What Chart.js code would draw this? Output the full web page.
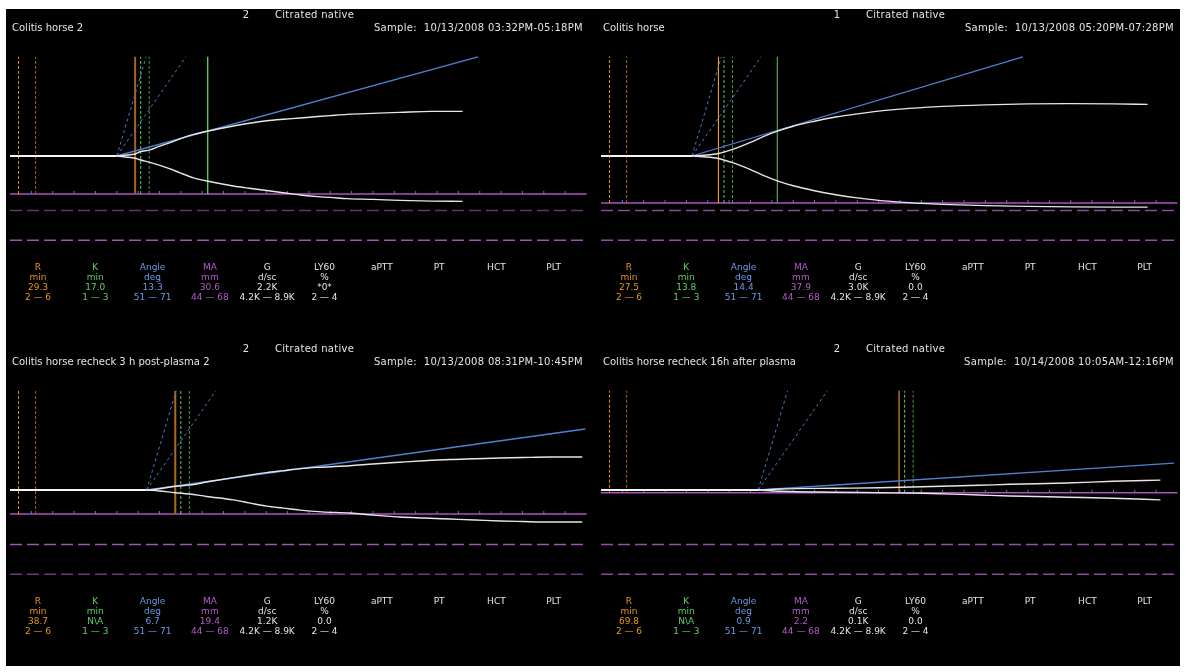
<!DOCTYPE html>
<html>
<head>
<meta charset="utf-8">
<title>TEG tracings</title>
<script src="https://cdn.jsdelivr.net/npm/chart.js@4.4.1/dist/chart.umd.min.js"></script>
<style>
  html, body { margin: 0; padding: 0; background: #ffffff; }
  #root { position: absolute; left: 0; top: 0; width: 1186px; height: 672px; overflow: hidden; }
  #screen { position: absolute; left: 6px; top: 9px; width: 1174px; height: 657px; background: #000000; }
  canvas { position: absolute; }
  .t { position: absolute; font-family: "DejaVu Sans", sans-serif; font-size: 10px; line-height: 12px;
       white-space: pre; color: #e4e4e4; }
  .t.small { font-size: 9px; line-height: 10px; }
  .t.wide { letter-spacing: 0.3px; }
</style>
</head>
<body>
<div id="root"><div id="screen"></div></div>
<script>
// ---- Sample headers -------------------------------------------------------
const panelTitles = ['Colitis horse 2', 'Colitis horse',
                     'Colitis horse recheck 3 h post-plasma 2', 'Colitis horse recheck 16h after plasma'];
const channelNumbers = ['2', '1', '2', '2'];
const sampleTypes = ['Citrated native', 'Citrated native', 'Citrated native', 'Citrated native'];
const sampleTimes = ['Sample:  10/13/2008 03:32PM-05:18PM', 'Sample:  10/13/2008 05:20PM-07:28PM',
                     'Sample:  10/13/2008 08:31PM-10:45PM', 'Sample:  10/14/2008 10:05AM-12:16PM'];

// ---- Measured parameters --------------------------------------------------
const rValues = [29.3, 27.5, 38.7, 69.8];          // min
const kValues = [17.0, 13.8, null, null];          // min (null = N\A)
const angleValues = [13.3, 14.4, 6.7, 0.9];        // deg
const maValues = [30.6, 37.9, 19.4, 2.2];          // mm
const gValues = ['2.2K', '3.0K', '1.2K', '0.1K'];  // d/sc
const ly60Values = ['*0*', '0.0', '0.0', '0.0'];   // %

// ---- Normal ranges ----------------------------------------------------------
const rRange = [2, 6];
const kRange = [1, 3];
const angleRange = [51, 71];
const maRange = [44, 68];
const rangeLabels = ['2 — 6', '1 — 3', '51 — 71', '44 — 68', '4.2K — 8.9K', '2 — 4'];

// ---- Table columns ----------------------------------------------------------
const columnHeaders = ['R', 'K', 'Angle', 'MA', 'G', 'LY60', 'aPTT', 'PT', 'HCT', 'PLT'];
const columnUnits = ['min', 'min', 'deg', 'mm', 'd/sc', '%', '', '', '', ''];

// ---- Time axis tick marks (min) --------------------------------------------
const tickMinutes = [5, 10, 15, 20, 25, 30, 35, 40, 45, 50, 55, 60, 65, 70, 75, 80,
                     85, 90, 95, 100, 105, 110, 115, 120, 125, 130];

// ---- Tracings: time (min) and upper / lower amplitude (mm) ------------------
const p1Minutes = [0, 25.0, 27.0, 29.3, 30.4, 32.8, 35.1, 37.5, 39.8, 43.0, 46.4, 52.3, 56.0, 60.1,
                   64.0, 68.0, 72.0, 75.0, 79.0, 85.0, 91.3, 98.8, 106.0];
const p1Upper = [0, 0, 0.3, 0.8, 1.7, 2.5, 4.0, 5.4, 6.9, 8.7, 10.1, 12.1, 13.2, 14.2,
                 14.8, 15.3, 15.9, 16.3, 16.8, 17.2, 17.6, 18.0, 18.0];
const p1Lower = [0, 0, -0.4, -0.9, -1.5, -2.6, -3.8, -5.2, -6.8, -8.8, -10.2, -12.1, -13.0, -13.9,
                 -14.8, -15.7, -16.4, -16.7, -17.2, -17.5, -17.9, -18.2, -18.3];

const p2Minutes = [0, 21.3, 24.0, 27.5, 31.0, 35.0, 38.0, 41.3, 45.0, 50.0, 55.0, 60.0, 65.0, 70.0,
                   75.0, 80.0, 90.0, 100.0, 110.0, 120.0, 128.0];
const p2Upper = [0, 0, 0.3, 1.0, 2.8, 5.5, 7.8, 10.0, 12.0, 14.0, 15.7, 17.0, 18.1, 18.9,
                 19.5, 20.0, 20.6, 21.0, 21.1, 21.0, 20.8];
const p2Lower = [0, 0, -0.3, -1.0, -2.8, -5.5, -7.8, -10.0, -12.0, -14.0, -15.6, -16.9, -17.9, -18.6,
                 -19.1, -19.5, -20.0, -20.3, -20.5, -20.6, -20.6];

const p3Minutes = [0, 32.0, 35.0, 38.7, 42.0, 46.0, 52.3, 56.0, 60.1, 64.0, 67.9, 73.0, 79.6, 85.0,
                   91.3, 97.0, 103.0, 109.0, 114.8, 120.0, 126.5, 134.0];
const p3Upper = [0, 0, 0.5, 1.5, 2.0, 3.2, 5.0, 6.0, 7.0, 7.8, 8.6, 9.2, 9.8, 10.5,
                 11.2, 11.8, 12.3, 12.6, 12.9, 13.1, 13.3, 13.3];
const p3Lower = [0, 0, -0.4, -1.1, -1.6, -2.6, -4.0, -5.2, -6.5, -7.3, -8.1, -8.8, -9.3, -10.1,
                 -10.9, -11.3, -11.7, -12.1, -12.5, -12.7, -12.9, -12.9];

const p4Minutes = [0, 36.8, 42.1, 54.6, 65.3, 75.2, 88.5, 95.8, 109.1, 119.9, 131.0];
const p4Upper = [0, 0, 0.4, 0.7, 0.9, 1.3, 1.9, 2.3, 2.8, 3.5, 4.0];
const p4Lower = [0, 0, -0.5, -0.9, -1.1, -1.3, -2.0, -2.4, -2.9, -3.3, -4.0];

// Far end of each angle tangent line: [min, mm]
const angleLineEnds = [[109.6, 40], [98.8, 40], [134.7, 24.6], [134.2, 10.8]];

// ---- Layout -----------------------------------------------------------------
const panelOffsets = [[0, 0], [591, 0], [0, 334], [591, 334]];
const PANEL_W = 593, PANEL_H = 334;
const PLOT_LEFT = 10, PLOT_RIGHT = 586.5, BASELINE_Y = 156, PX_PER_MM = 2.48;
const TIME_MAX = 135, AMP_TOP = 40;
const PAPER_MM_PER_MIN = 2;   // chart speed used by the angle construction

const COLORS = {
  trace: '#e6e6e6', base: '#f4f4f4', tangent: '#4f80d2', tangentRange: '#4a78c4',
  rRange: ['#ec900a', '#a8680e'], kRange: ['#66c466', '#489848'],
  ma: '#b050c2', tick: '#3c8cc0'
};
// Per-channel marker styles
const rMarkStyles = [['#a8641a', 2], ['#f0a028', 1.1], ['#b06a1c', 2], ['#f0a028', 1.1]];
const kMarkStyles = [['#5cd65c', 1.3], ['#48a048', 1.3], null, null];
const maRangeColors = [['#64346c', '#a452b6'], ['#8a4a9a', '#9a4cac'],
                       ['#a452b6', '#6e3a7a'], ['#9a4cac', '#8a4a9a']];
const columnColors = ['#e8961c', '#5fd05f', '#6b98e6', '#b45ac8', '#e4e4e4', '#e4e4e4',
                      '#e4e4e4', '#e4e4e4', '#e4e4e4', '#e4e4e4'];

const traces = [[p1Minutes, p1Upper, p1Lower], [p2Minutes, p2Upper, p2Lower],
                [p3Minutes, p3Upper, p3Lower], [p4Minutes, p4Upper, p4Lower]];

const root = document.getElementById('root');

function addText(str, x, y, align, color, cls) {
  const d = document.createElement('div');
  d.className = 't' + (cls ? ' ' + cls : '');
  d.textContent = str;
  d.style.left = x + 'px';
  d.style.top = y + 'px';
  const tx = align === 'center' ? '-50%' : align === 'right' ? '-100%' : '0';
  d.style.transform = 'translate(' + tx + ', -50%)';
  if (color) d.style.color = color;
  root.appendChild(d);
}

function segment(x1, y1, x2, y2, color, width, dash) {
  return {
    data: [{ x: x1, y: y1 }, { x: x2, y: y2 }],
    borderColor: color, borderWidth: width, borderDash: dash || [],
    pointRadius: 0, fill: false, clip: false, tension: 0
  };
}

function seriesPoints(times, values, from) {
  const pts = [];
  for (let i = from; i < times.length; i++) pts.push({ x: times[i], y: values[i] });
  return pts;
}

function buildPanel(i) {
  const [dx, dy] = panelOffsets[i];
  const [minutes, upper, lower] = traces[i];
  const split = minutes[1];
  const r = rValues[i], k = kValues[i], ma = maValues[i];
  const maLevel = -ma / 2;

  // Painting order: first entry is at the bottom.
  const layers = [];
  layers.push(segment(0, -maRange[1] / 2, TIME_MAX, -maRange[1] / 2, maRangeColors[i][1], 1.5, [12, 5]));
  layers.push(segment(0, -maRange[0] / 2, TIME_MAX, -maRange[0] / 2, maRangeColors[i][0], 1.5, [12, 5]));
  layers.push(segment(0, maLevel, TIME_MAX, maLevel, COLORS.ma, 1.6));
  layers.push({
    data: tickMinutes.map(t => ({ x: t, y: maLevel + 0.6 })),
    showLine: false, pointStyle: 'line', rotation: 90, pointRadius: 1.5,
    borderColor: COLORS.tick, borderWidth: 1, clip: false
  });
  rRange.forEach((t, j) => layers.push(segment(t, maLevel, t, AMP_TOP, COLORS.rRange[j], 1, [3, 2])));
  kRange.forEach((t, j) => layers.push(segment(r + t + 0.3, maLevel, r + t + 0.3, AMP_TOP, COLORS.kRange[j], 1, [3, 2])));
  layers.push(segment(r, maLevel, r, AMP_TOP, rMarkStyles[i][0], rMarkStyles[i][1]));
  if (k !== null) layers.push(segment(r + k, maLevel, r + k, AMP_TOP, kMarkStyles[i][0], kMarkStyles[i][1]));
  angleRange.forEach(deg => {
    const run = AMP_TOP / (PAPER_MM_PER_MIN * Math.tan(deg * Math.PI / 180));
    layers.push(segment(split, 0, split + run, AMP_TOP, COLORS.tangentRange, 1, [3, 3]));
  });
  const end = angleLineEnds[i];
  layers.push(segment(split, 0, end[0], end[1], COLORS.tangent, 1.3));
  const traceStyle = { borderColor: COLORS.trace, borderWidth: 1.4, pointRadius: 0, fill: false,
                       clip: false, cubicInterpolationMode: 'monotone' };
  layers.push(Object.assign({ data: seriesPoints(minutes, lower, 1) }, traceStyle));
  layers.push(Object.assign({ data: seriesPoints(minutes, upper, 1) }, traceStyle));
  layers.push(segment(minutes[0], 0, split, 0, COLORS.base, 2));

  const canvas = document.createElement('canvas');
  canvas.width = PANEL_W; canvas.height = PANEL_H;
  canvas.style.left = dx + 'px'; canvas.style.top = dy + 'px';
  canvas.style.width = PANEL_W + 'px'; canvas.style.height = PANEL_H + 'px';
  root.appendChild(canvas);

  const halfSpan = AMP_TOP * PX_PER_MM;
  new Chart(canvas.getContext('2d'), {
    type: 'line',
    data: { datasets: layers.reverse() },
    options: {
      responsive: false, animation: false, events: [],
      devicePixelRatio: 1,
      layout: { padding: { left: PLOT_LEFT, right: PANEL_W - PLOT_RIGHT,
                           top: BASELINE_Y - halfSpan, bottom: PANEL_H - BASELINE_Y - halfSpan } },
      plugins: { legend: { display: false }, tooltip: { enabled: false } },
      scales: {
        x: { type: 'linear', min: 0, max: TIME_MAX, display: false },
        y: { type: 'linear', min: -AMP_TOP, max: AMP_TOP, display: false }
      }
    }
  });

  // Header texts
  addText(channelNumbers[i], dx + 246, dy + 15, 'center');
  addText(sampleTypes[i], dx + 275, dy + 15, 'left', null, 'wide');
  addText(panelTitles[i], dx + 12, dy + 28, 'left');
  addText(sampleTimes[i], dx + 583, dy + 28, 'right', null, 'wide');

  // Parameter table
  const values = [r.toFixed(1), k === null ? 'N\\A' : k.toFixed(1), angleValues[i].toFixed(1),
                  ma.toFixed(1), gValues[i], ly60Values[i], '', '', '', ''];
  columnHeaders.forEach((h, c) => {
    const cx = dx + 38 + 57.3 * c;
    addText(h, cx, dy + 267, 'center', columnColors[c], 'small');
    if (columnUnits[c]) addText(columnUnits[c], cx, dy + 277, 'center', columnColors[c], 'small');
    if (values[c]) addText(values[c], cx, dy + 287, 'center', columnColors[c], 'small');
    if (rangeLabels[c]) addText(rangeLabels[c], cx, dy + 297, 'center', columnColors[c], 'small');
  });
}

for (let i = 0; i < 4; i++) buildPanel(i);
</script>
</body>
</html>
